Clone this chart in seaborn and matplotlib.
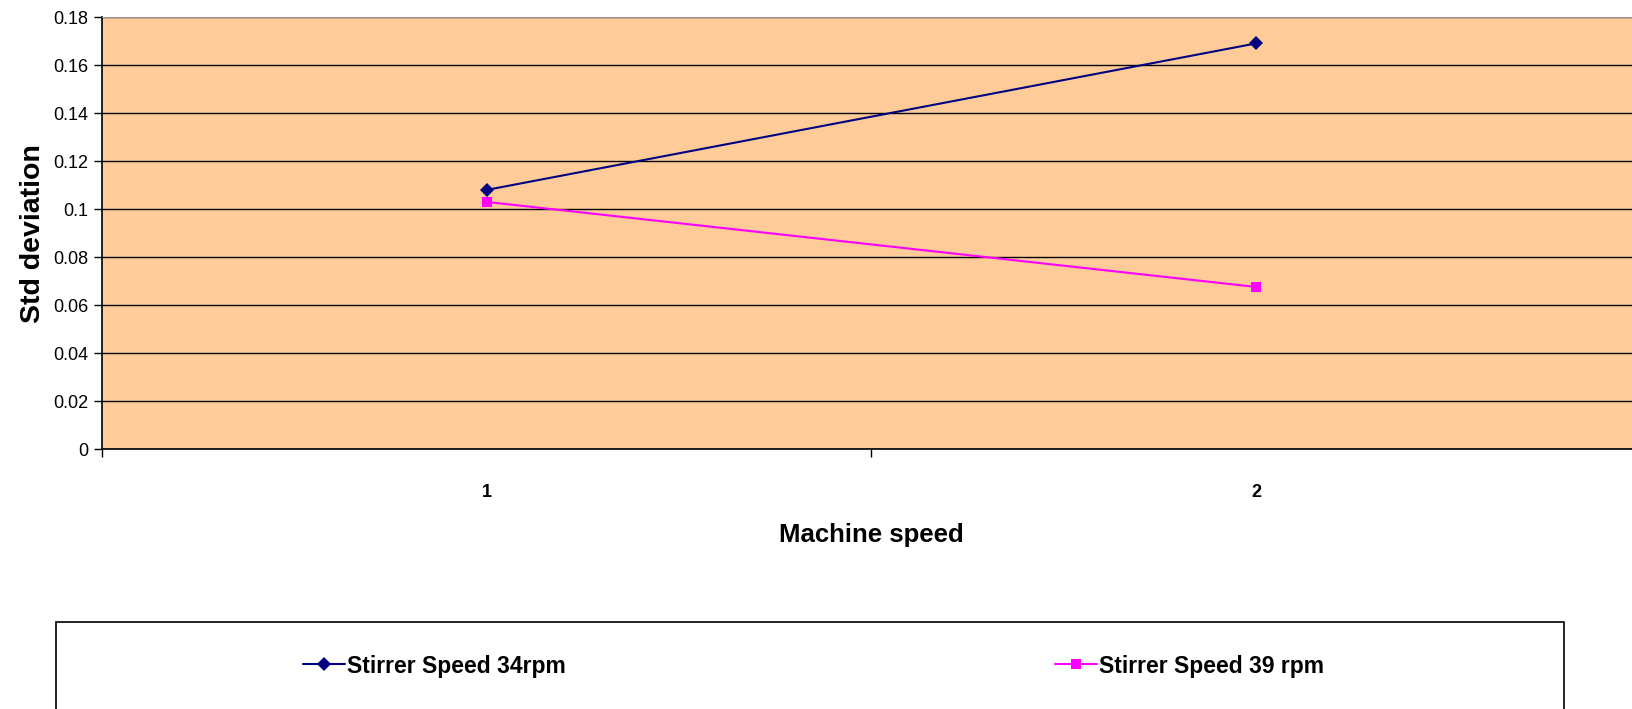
import matplotlib
matplotlib.use("Agg")
import matplotlib.pyplot as plt
import seaborn as sns
import pandas as pd
from matplotlib.patches import Rectangle
from matplotlib.lines import Line2D

machine_speed = [1, 2]
series_names = ["Stirrer Speed 34rpm", "Stirrer Speed 39 rpm"]
std_34 = [0.108, 0.169]
std_39 = [0.103, 0.0676]
colors = ["#000080", "#FF00FF"]
markers = ["D", "s"]
ytick_labels = ["0", "0.02", "0.04", "0.06", "0.08", "0.1", "0.12", "0.14", "0.16", "0.18"]

df = pd.DataFrame({
    "Machine speed": machine_speed * 2,
    "Std deviation": std_34 + std_39,
    "Series": [series_names[0]] * 2 + [series_names[1]] * 2,
})

sns.set_style("white")
plt.rcParams["font.family"] = ["Liberation Sans", "DejaVu Sans"]
plt.rcParams["text.color"] = "black"
plt.rcParams["xtick.color"] = "black"
plt.rcParams["ytick.color"] = "black"
plt.rcParams["axes.labelcolor"] = "black"

fig = plt.figure(figsize=(16.33, 7.09), dpi=100)
ax = fig.add_axes([102 / 1633, 1 - 449.3 / 709, (1640.7 - 102) / 1633, (449.3 - 17) / 709])
ax.set_facecolor("#FFCC99")

sns.lineplot(data=df, x="Machine speed", y="Std deviation", hue="Series", style="Series",
             palette=dict(zip(series_names, colors)), markers=dict(zip(series_names, markers)),
             dashes=False, markersize=7, linewidth=1.5, markeredgewidth=0, ax=ax, legend=False, zorder=3)

ax.set_xlim(0.5, 2.5)
ax.set_ylim(0, 0.18)
ax.set_yticks([i * 0.02 for i in range(len(ytick_labels))])
ax.set_yticklabels(ytick_labels)
ax.set_xticks([0.5, 1.5, 2.5])
ax.set_xticklabels([])
ax.set_xticks(machine_speed, minor=True)
ax.set_xticklabels([str(m) for m in machine_speed], minor=True, fontweight="bold", fontsize=13)
ax.tick_params(axis="x", which="minor", length=0, pad=25)
ax.tick_params(axis="x", which="major", length=6, width=1, direction="out", bottom=True)
ax.tick_params(axis="y", length=6, width=1, direction="out", left=True, labelsize=13, pad=4)
ax.grid(axis="y", color="black", linewidth=1.0, zorder=1)
ax.set_axisbelow(True)

ax.spines["right"].set_visible(False)
ax.spines["top"].set_color("#999999")
ax.spines["left"].set_color("black")
ax.spines["bottom"].set_color("black")
ax.spines["left"].set_linewidth(1.2)
ax.spines["bottom"].set_linewidth(1.2)

ax.set_xlabel("Machine speed", fontweight="bold", fontsize=18.5)
ax.set_ylabel("Std deviation", fontweight="bold", fontsize=20.5)
ax.xaxis.set_label_coords(0.5, (449.3 - 523) / 432.3)
ax.yaxis.set_label_coords((46 - 102) / 1538.7, 0.5)

# legend box
fig.patches.append(Rectangle((56 / 1633, -0.01), (1564 - 56) / 1633, 1.01 - 622 / 709,
                             transform=fig.transFigure, fill=False, edgecolor="black",
                             linewidth=1.2, figure=fig))
handles = [Line2D([], [], color=c, marker=m, markersize=7, markeredgewidth=0, linewidth=1.5)
           for c, m in zip(colors, markers)]
for h, name, xl in zip(handles, series_names, [303, 1055]):
    fig.legend([h], [name], loc="center left", bbox_to_anchor=(xl / 1633, 1 - 666 / 709),
               frameon=False, prop={"weight": "bold", "size": 16.5}, handlelength=1.82,
               handletextpad=0.12, borderaxespad=0, borderpad=0)

fig.savefig("out.png", dpi=100)
